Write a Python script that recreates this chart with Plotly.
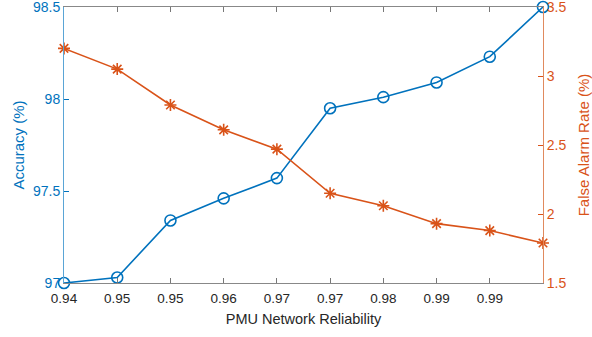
import plotly.graph_objects as go

x_pos = [0, 1, 2, 3, 4, 5, 6, 7, 8, 9]
x_labels = ["0.94", "0.95", "0.95", "0.96", "0.97", "0.97", "0.98", "0.99", "0.99", ""]
accuracy = [97.00, 97.03, 97.34, 97.46, 97.57, 97.95, 98.01, 98.09, 98.23, 98.50]
false_alarm = [3.20, 3.05, 2.79, 2.61, 2.47, 2.15, 2.06, 1.93, 1.88, 1.79]

BLUE = "#0072BD"
ORANGE = "#D95319"
FONT = "Liberation Sans, Arial, sans-serif"

fig = go.Figure()
fig.add_trace(go.Scatter(
    x=x_pos, y=accuracy, mode="lines+markers",
    line=dict(color=BLUE, width=1.6),
    marker=dict(symbol="circle-open", size=11, color=BLUE, line=dict(width=1.6, color=BLUE)),
    cliponaxis=False, yaxis="y", showlegend=False,
))
fig.add_trace(go.Scatter(
    x=x_pos, y=false_alarm, mode="lines+markers",
    line=dict(color=ORANGE, width=1.6),
    marker=dict(symbol="asterisk-open", size=10, color=ORANGE, line=dict(width=1.6, color=ORANGE)),
    cliponaxis=False, yaxis="y2", showlegend=False,
))

fig.update_layout(
    width=592, height=337,
    margin=dict(l=64, r=49, t=7, b=54),
    paper_bgcolor="white", plot_bgcolor="white",
    font=dict(family=FONT, size=14, color="#262626"),
    xaxis=dict(
        range=[0, 9], tickvals=x_pos, ticktext=x_labels,
        ticks="inside", ticklen=5, tickcolor="#777777", mirror="ticks",
        showline=True, linecolor="#888888", linewidth=1,
        showgrid=False, zeroline=False, automargin=False,
        ticklabelstandoff=3,
        tickfont=dict(size=13.5, color="#262626"),
        title=dict(text="PMU Network Reliability", font=dict(size=14.5, color="#262626"), standoff=8),
    ),
    yaxis=dict(
        range=[97, 98.5], tickvals=[97, 97.5, 98, 98.5], ticktext=["97", "97.5", "98", "98.5"],
        ticks="inside", ticklen=5, tickcolor=BLUE, ticklabeloverflow="allow",
        showline=True, linecolor="#5AA5D6", linewidth=1,
        showgrid=False, zeroline=False, automargin=False,
        tickfont=dict(size=14, color=BLUE),
        title=dict(text="Accuracy (%)", font=dict(size=15, color=BLUE), standoff=4),
    ),
    yaxis2=dict(
        range=[1.5, 3.5], tickvals=[1.5, 2, 2.5, 3, 3.5], ticktext=["1.5", "2", "2.5", "3", "3.5"],
        overlaying="y", side="right",
        ticks="inside", ticklen=5, tickcolor=ORANGE, ticklabeloverflow="allow",
        showline=True, linecolor="#E08A5E", linewidth=1,
        showgrid=False, zeroline=False, automargin=False,
        tickfont=dict(size=14, color=ORANGE),
        title=dict(text="False Alarm Rate (%)", font=dict(size=15, color=ORANGE)),
    ),
)

fig.write_html("out.html")
